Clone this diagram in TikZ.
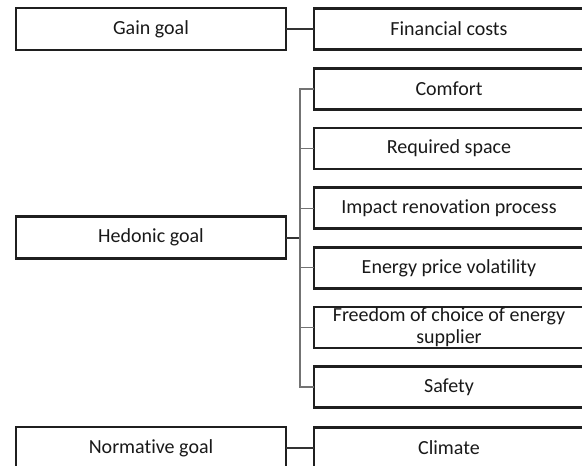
\documentclass[tikz,border=0pt]{standalone}
\usepackage{fontspec}
\setmainfont[RawFeature=-liga]{Carlito}
\usetikzlibrary{positioning}
\tikzset{%
  goal/.style={draw=black!88, line width=2.5pt, outer sep=0pt, inner sep=0pt,
    minimum width=270pt, minimum height=42pt, text=black!90,
    font=\fontsize{20}{21.5}\selectfont},
  item/.style={goal, minimum height=41pt, text width=250pt, align=flush center},
  lnk/.style={draw=black!80, line width=1.5pt},
  brn/.style={draw=black!55, line width=1.2pt}
}

\begin{document}
\begin{tikzpicture}[x=1pt, y=-1pt]
        \useasboundingbox (0,0) rectangle (582,466);
        % goals on the left
        \node[goal] (gain)      at (151,29)    {Gain goal};
        \node[goal] (hedonic)   at (151,237.5) {Hedonic goal};
        \node[goal] (normative) at (151,448)   {Normative goal};
        % attributes on the right
        \node[item] (costs)   at (449,29)  {Financial costs};
        \node[item] (comfort) at (449,89)  {Comfort};
        \node[item] (space)   [below = 18.6pt of comfort] {Required space};
        \node[item] (impact)  [below = 18.6pt of space]   {Impact renovation process};
        \node[item] (price)   [below = 18.6pt of impact]  {Energy price volatility};
        \node[item] (freedom) [below = 18.6pt of price]   {Freedom of choice of energy supplier};
        \node[item] (safety)  [below = 18.6pt of freedom] {Safety};
        \node[item] (climate) at (449,448) {Climate};
        % connectors
        \coordinate (fork) at (300,237.5);
        \path[lnk]
        (gain) edge (costs)
        (normative) edge (climate);
        \draw[lnk, line width=2pt] (hedonic.east) -- (fork);
        \foreach \n in {comfort, space, impact, price, freedom, safety}
          \draw[brn] (\n.west) -| (fork);
      \end{tikzpicture}
\end{document}
